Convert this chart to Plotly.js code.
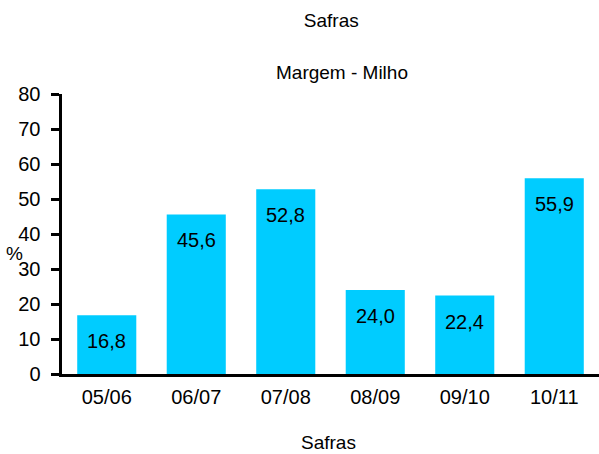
<!DOCTYPE html>
<html>
<head>
<meta charset="utf-8">
<script src="https://cdn.plot.ly/plotly-3.0.1.min.js"></script>
<style>
  html, body { margin: 0; padding: 0; background: #fff; }
  #chart { width: 599px; height: 454px; }
</style>
</head>
<body>
<div id="chart"></div>
<script>
// safras and margem (%)
const safras = ["05/06", "06/07", "07/08", "08/09", "09/10", "10/11"]
const margem = [16.8, 45.6, 52.8, 24.0, 22.4, 55.9]
const rotulos = ["16,8", "45,6", "52,8", "24,0", "22,4", "55,9"]

const font = { family: "Liberation Sans, Arial, sans-serif", color: "#000" }

const trace = {
  type: "bar",
  x: safras,
  y: margem,
  marker: { color: "#00CCFF", line: { width: 0 } },
  hoverinfo: "skip",
}

// value labels sit a bit below the bar top
const labels = safras.map((s, i) => ({
  x: s,
  y: margem[i],
  xref: "x",
  yref: "y",
  text: rotulos[i],
  showarrow: false,
  yanchor: "middle",
  yshift: -26,
  font: { ...font, size: 20 },
}))

const layout = {
  width: 599,
  height: 454,
  margin: { l: 62, r: 0, t: 94, b: 80 },
  paper_bgcolor: "#fff",
  plot_bgcolor: "#fff",
  font: { ...font, size: 19 },
  showlegend: false,
  bargap: 0.34,
  title: {
    text: "Safras",
    font: { ...font, size: 19 },
    x: 0.553,
    xanchor: "center",
    y: 1 - 20 / 454,
    yanchor: "middle",
  },
  xaxis: {
    type: "category",
    showline: true,
    linecolor: "#000",
    linewidth: 3,
    ticks: "",
    showgrid: false,
    zeroline: false,
    tickfont: { ...font, size: 20 },
    ticklabelstandoff: 3,
  },
  yaxis: {
    range: [0, 80],
    dtick: 10,
    showline: true,
    linecolor: "#000",
    linewidth: 3.5,
    ticks: "outside",
    ticklen: 8,
    tickwidth: 3,
    tickcolor: "#000",
    showgrid: false,
    zeroline: false,
    tickfont: { ...font, size: 20 },
    ticklabelstandoff: 6,
  },
  annotations: [
    ...labels,
    {
      text: "Margem - Milho",
      xref: "paper", yref: "paper",
      x: 0.522, y: (374 - 72) / 280,
      xanchor: "center", yanchor: "middle",
      showarrow: false,
      font: { ...font, size: 19 },
    },
    {
      text: "Safras",
      xref: "paper", yref: "paper",
      x: 0.497, y: (374 - 442) / 280,
      xanchor: "center", yanchor: "middle",
      showarrow: false,
      font: { ...font, size: 19 },
    },
    {
      text: "%",
      xref: "paper", yref: "paper",
      x: (14 - 62) / 538, y: (374 - 253) / 280,
      xanchor: "center", yanchor: "middle",
      showarrow: false,
      font: { ...font, size: 19 },
    },
  ],
}

Plotly.newPlot("chart", [trace], layout, { staticPlot: true, displayModeBar: false })
</script>
</body>
</html>
